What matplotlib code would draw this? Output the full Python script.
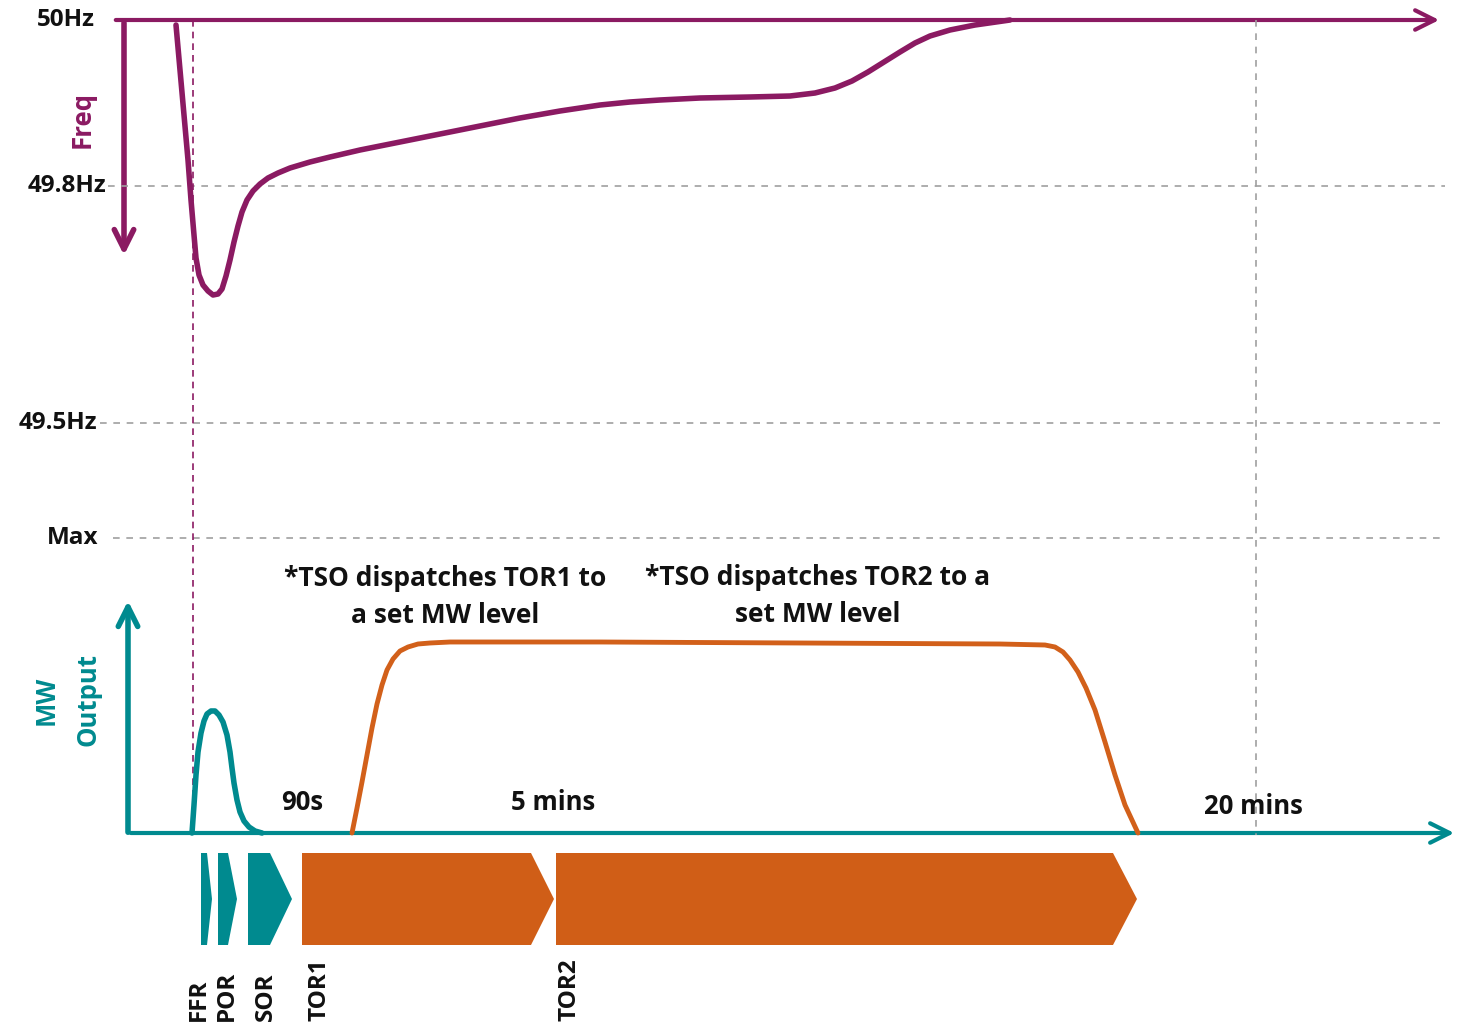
import matplotlib.pyplot as plt
from matplotlib.patches import Polygon, FancyArrowPatch

# colours
purple = '#8B1A62'
teal = '#008A8F'
orange = '#D2601A'
grey = '#A0A0A0'

# frequency trace (pixel space of the sketch, y grows downward)
freq_x = [176, 180, 184, 188, 191, 194, 196, 199, 203, 208, 213, 218, 222, 226, 230, 234, 238,
          242, 247, 253, 260, 268, 278, 290, 310, 330, 360, 400, 440, 480, 520, 560, 600, 630,
          660, 700, 750, 790, 815, 835, 852, 868, 884, 900, 915, 930, 950, 975, 1010]
freq_y = [25, 70, 115, 160, 200, 235, 258, 275, 285, 291, 295, 294, 289, 276, 260, 242, 226,
          212, 200, 191, 184, 178, 173, 168, 162, 157, 150, 142, 134, 126, 118, 111, 105, 102,
          100, 98, 97, 96, 93, 88, 81, 72, 62, 52, 43, 36, 30, 25, 20]

# FFR/POR/SOR teal bump
mw_x = [192, 194, 196, 198, 201, 204, 207, 211, 215, 219, 223, 227, 230, 232, 234, 237, 240,
        244, 249, 255, 262]
mw_y = [833, 805, 775, 752, 733, 721, 714, 711, 711, 715, 722, 735, 752, 768, 783, 800, 812,
        821, 827, 831, 833]

# TOR output trace
tor_x = [352, 357, 362, 367, 372, 377, 382, 387, 393, 400, 408, 418, 430, 450, 600, 800, 1000,
         1045, 1055, 1063, 1070, 1078, 1086, 1095, 1105, 1115, 1125, 1138]
tor_y = [833, 808, 782, 755, 728, 704, 685, 670, 659, 651, 647, 644, 643, 642, 642, 643, 644,
         645, 647, 652, 660, 672, 688, 710, 742, 775, 805, 833]

# reserve chevrons: left, body end, tip
chev_names = ['FFR', 'POR', 'SOR', 'TOR1', 'TOR2']
chev_left = [201, 218, 248, 302, 556]
chev_body = [207, 228, 270, 531, 1113]
chev_tip = [212, 237, 292, 554, 1137]
chev_col = [teal, teal, teal, '#D05E17', '#D05E17']
label_x = [199, 227, 266, 320, 570]

# frequency levels
lvl_names = ['50Hz', '49.8Hz', '49.5Hz', 'Max']
lvl_y = [20, 186, 423, 538]
lvl_tx = [95, 106, 97, 98]
lvl_x0 = [113, 108, 100, 113]

# time marks
time_names = ['90s', '5 mins', '20 mins']
time_x = [302, 553, 1253]
time_y = [803, 803, 807]

plt.rcParams['font.family'] = ['Open Sans', 'DejaVu Sans']
fs = 18.5
fig = plt.figure(figsize=(14.58, 10.26), dpi=100)
ax = fig.add_axes([0, 0, 1, 1])
ax.set_xlim(0, 1458)
ax.set_ylim(1026, 0)
ax.axis('off')

# dashed guide lines
for name, y, tx, x0 in zip(lvl_names, lvl_y, lvl_tx, lvl_x0):
    if name != '50Hz':
        ax.plot([x0, 1445], [y, y], ls=(0, (4, 4)), color=grey, lw=1.2)
    ax.text(tx, y, name, ha='right', va='center', fontsize=17.5, fontweight='bold', color='#111111')
ax.plot([1256, 1256], [20, 835], ls=(0, (4, 4)), color=grey, lw=1.2)
ax.plot([193, 193], [20, 833], ls=(0, (4, 3)), color=purple, lw=1.2)

# frequency axes
ax.add_patch(FancyArrowPatch((113, 20), (1442, 20), arrowstyle='->,head_length=14,head_width=7',
                             color=purple, lw=3, mutation_scale=1))
ax.add_patch(FancyArrowPatch((124, 20), (124, 258), arrowstyle='->,head_length=14,head_width=7',
                             color=purple, lw=4, mutation_scale=1))
ax.text(82, 119, 'Freq', rotation=90, ha='center', va='center', fontsize=fs,
        fontweight='bold', color=purple)

# MW axes
ax.add_patch(FancyArrowPatch((128, 833), (1457, 833), arrowstyle='->,head_length=14,head_width=7',
                             color=teal, lw=3, mutation_scale=1))
ax.add_patch(FancyArrowPatch((128, 835), (128, 598), arrowstyle='->,head_length=14,head_width=7',
                             color=teal, lw=4, mutation_scale=1))
ax.text(46, 700, 'MW', rotation=90, ha='center', va='center', fontsize=fs,
        fontweight='bold', color=teal)
ax.text(88, 699, 'Output', rotation=90, ha='center', va='center', fontsize=fs,
        fontweight='bold', color=teal)

# traces
ax.plot(freq_x, freq_y, color=purple, lw=4, solid_capstyle='round', solid_joinstyle='round')
ax.plot(mw_x, mw_y, color=teal, lw=4, solid_capstyle='round', solid_joinstyle='round')
ax.plot(tor_x, tor_y, color=orange, lw=3.5, solid_capstyle='round', solid_joinstyle='round')

# time labels
for name, x, y in zip(time_names, time_x, time_y):
    ax.text(x, y, name, ha='center', va='center', fontsize=fs, fontweight='bold', color='#111111')

ax.text(445, 597, '*TSO dispatches TOR1 to\na set MW level', ha='center', va='center',
        fontsize=19, fontweight='bold', color='#111111', linespacing=1.5)
ax.text(818, 596, '*TSO dispatches TOR2 to a\nset MW level', ha='center', va='center',
        fontsize=19, fontweight='bold', color='#111111', linespacing=1.5)

# chevrons
top, bot = 853, 945
mid = (top + bot) / 2
for name, l, b, t, c, lx in zip(chev_names, chev_left, chev_body, chev_tip, chev_col, label_x):
    ax.add_patch(Polygon([(l, top), (b, top), (t, mid), (b, bot), (l, bot)], closed=True,
                         facecolor=c, edgecolor='none'))
    ax.text(lx, 1021, name, rotation=90, ha='center', va='bottom', fontsize=17.5,
            fontweight='bold', color='#111111')

fig.savefig('out.png', dpi=100)
